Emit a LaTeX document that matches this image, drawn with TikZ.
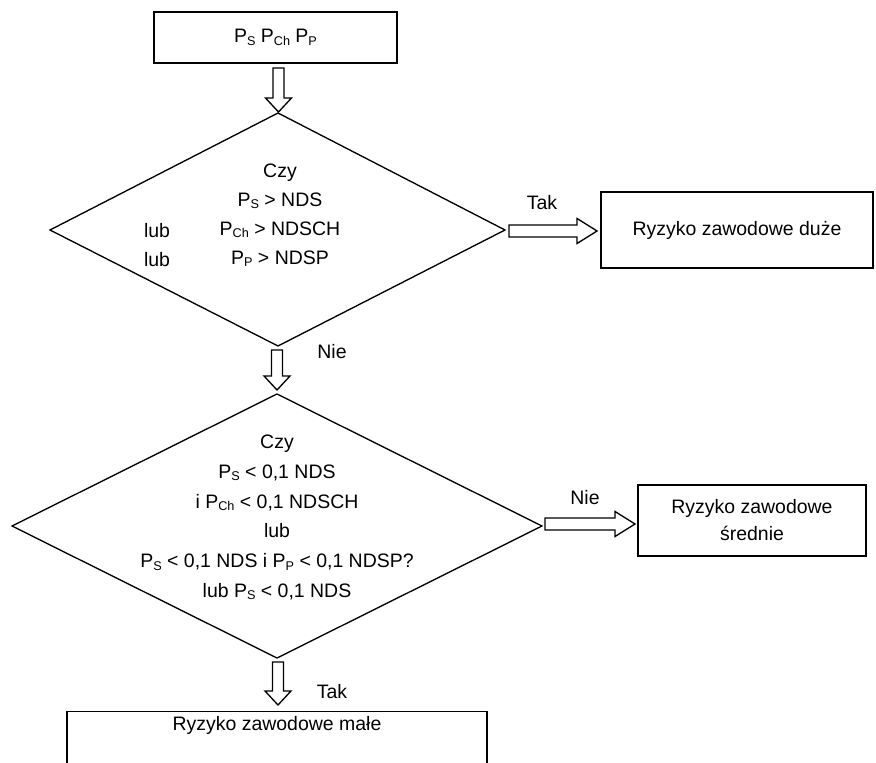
\documentclass[tikz,border=0pt]{standalone}
\usepackage{fontspec}
\setmainfont{Liberation Sans}
\usetikzlibrary{calc}
\newcommand{\sbs}[1]{\raisebox{-0.12em}{\fontsize{9.5}{10}\selectfont #1}}
\newcommand{\vblk}[2]{\draw[blk] let \p1=(#1), \p2=(#2) in
  (\x1-4.1pt,\y1) -- (\x1+4.1pt,\y1) -- (\x1+4.1pt,\y2+10.5pt) -- (\x1+9.75pt,\y2+10.5pt)
  -- (\x2,\y2) -- (\x1-9.75pt,\y2+10.5pt) -- (\x1-4.1pt,\y2+10.5pt) -- cycle;}
\newcommand{\hblk}[2]{\draw[blk] let \p1=(#1), \p2=(#2) in
  (\x1,\y1+4.5pt) -- (\x2-15pt,\y1+4.5pt) -- (\x2-15pt,\y1+9.4pt) -- (\x2,\y2)
  -- (\x2-15pt,\y1-9.4pt) -- (\x2-15pt,\y1-4.5pt) -- (\x1,\y1-4.5pt) -- cycle;}
\tikzset{
  every node/.style={font=\fontsize{14.6}{21.75}\selectfont, inner sep=0pt},
  boxnode/.style={draw, line width=1pt},
  outl/.style={line width=1pt, line join=miter},
  blk/.style={line width=1pt, fill=white, line join=miter}
}
\begin{document}
\begin{tikzpicture}[x=0.75pt,y=-0.75pt]
\useasboundingbox (0,0) rectangle (876,763);

% boxes
\node[boxnode, minimum width=182.25pt, minimum height=38.25pt] (top) at (275.5,37.5) {P\sbs{S} P\sbs{Ch} P\sbs{P}};
\node[boxnode, minimum width=204pt, minimum height=57pt] (big) at (737,230) {Ryzyko zawodowe duże};
\node[boxnode, minimum width=171pt, minimum height=53.25pt, align=center,
      font=\fontsize{14.6}{20.25}\selectfont] (mid) at (752,520.5) {Ryzyko zawodowe\\średnie};
\node[boxnode, minimum width=315pt, minimum height=60pt, anchor=north] (small) at (277,711) {};
\node (smallt) at (277,725) {Ryzyko zawodowe małe};

% diamonds
\coordinate (d1n) at (278,113);
\coordinate (d1e) at (505,230);
\coordinate (d1s) at (278,346);
\coordinate (d1w) at (50,230);
\draw[outl] (d1n) -- (d1e) -- (d1s) -- (d1w) -- cycle;
\coordinate (d2n) at (277,394);
\coordinate (d2e) at (542,526);
\coordinate (d2s) at (277,658);
\coordinate (d2w) at (12,526);
\draw[outl] (d2n) -- (d2e) -- (d2s) -- (d2w) -- cycle;

\node[align=center] (d1t) at (280,215.5) {Czy\\P\sbs{S} > NDS\\P\sbs{Ch} > NDSCH\\P\sbs{P} > NDSP};
\node[align=center] (lub1) at (157,245.5) {lub\\lub};
\node[align=center, font=\fontsize{14.6}{22.35}\selectfont] (d2t) at (277,517.5)
  {Czy\\P\sbs{S} < 0,1 NDS\\i P\sbs{Ch} < 0,1 NDSCH\\lub\\P\sbs{S} < 0,1 NDS i P\sbs{P} < 0,1 NDSP?\\lub P\sbs{S} < 0,1 NDS};

% block arrows
\coordinate (a1s) at (278.5,68);  \coordinate (a1e) at (278.5,112);
\coordinate (a2s) at (277,350);   \coordinate (a2e) at (277,390);
\coordinate (a3s) at (278,662);   \coordinate (a3e) at (278,705);
\coordinate (h1s) at (509,231);   \coordinate (h1e) at (597,231);
\coordinate (h2s) at (545,524);   \coordinate (h2e) at (635,524);
\vblk{a1s}{a1e}
\vblk{a2s}{a2e}
\vblk{a3s}{a3e}
\hblk{h1s}{h1e}
\hblk{h2s}{h2e}

% labels
\node (tak1) at (542,203) {Tak};
\node (nie1) at (332,352) {Nie};
\node (nie2) at (585,498) {Nie};
\node (tak2) at (332,692) {Tak};
\end{tikzpicture}
\end{document}
